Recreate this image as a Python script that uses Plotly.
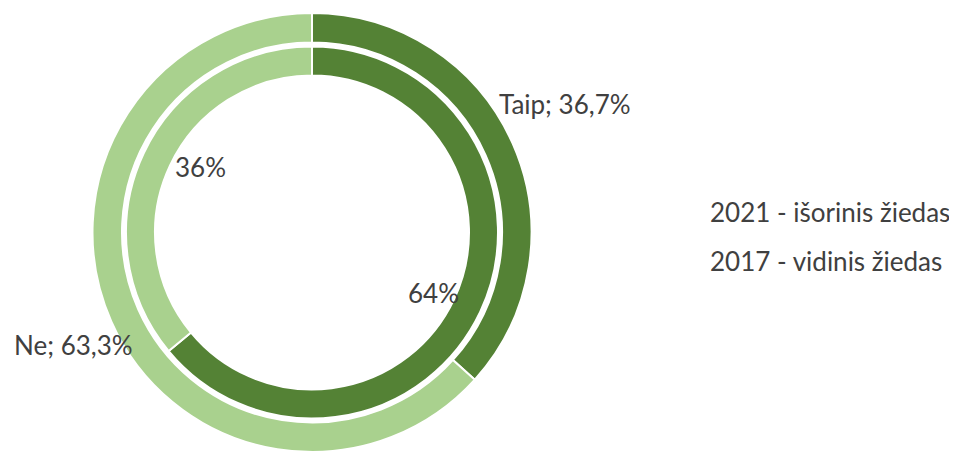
import plotly.graph_objects as go

# Data
categories = ["Taip", "Ne"]
values_2021 = [36.7, 63.3]   # outer ring
values_2017 = [64, 36]       # inner ring
labels_2021 = ["Taip; 36,7%", "Ne; 63,3%"]
labels_2017 = ["64%", "36%"]
legend_lines = ["2021 - išorinis žiedas", "2017 - vidinis žiedas"]

# page body has an 8px margin: work in window pixels and shift
OFF = 8
W, H = 957 - OFF, 452 - OFF
colors = ["#548235", "#A9D18E"]
FONT = "Lato"
TXT = "#404040"

def dom(cx, cy, r):
    cx, cy = cx - OFF, cy - OFF
    return dict(x=[max(0, (cx - r) / W), min(1, (cx + r) / W)],
                y=[max(0, 1 - (cy + r) / H), min(1, 1 - (cy - r) / H)])

def px(x, y):
    return (x - OFF) / W, 1 - (y - OFF) / H

cx, cy = 312, 232.5
r_out = 452 - OFF - (cy - OFF)  # fit into available height
r_out = min(r_out, 220)
fig = go.Figure()
fig.add_trace(go.Pie(
    labels=categories, values=values_2021, sort=False, direction="clockwise",
    rotation=0, hole=190 / r_out, domain=dom(cx, cy, r_out),
    marker=dict(colors=colors, line=dict(color="white", width=2)),
    textinfo="none", hoverinfo="label+percent", showlegend=False))
fig.add_trace(go.Pie(
    labels=categories, values=values_2017, sort=False, direction="clockwise",
    rotation=0, hole=157 / 186, domain=dom(cx, cy, 186),
    marker=dict(colors=colors, line=dict(color="white", width=2)),
    textinfo="none", hoverinfo="label+percent", showlegend=False))

ann = [
    (labels_2021[0], 497, 104, "left"),
    (labels_2021[1], 12, 345, "left"),
    (labels_2017[0], 433, 293, "center"),
    (labels_2017[1], 200, 167, "center"),
    (legend_lines[0], 708, 212, "left"),
    (legend_lines[1], 708, 261, "left"),
]
for t, x, y, xa in ann:
    ax, ay = px(x, y)
    fig.add_annotation(text=t, x=ax, y=ay, xref="paper", yref="paper",
                       xanchor=xa, yanchor="middle", showarrow=False,
                       font=dict(family=FONT, size=26, color=TXT))

fig.update_layout(width=W, height=H, margin=dict(l=0, r=0, t=0, b=0),
                  paper_bgcolor="white", plot_bgcolor="white")
fig.write_html("out.html")
